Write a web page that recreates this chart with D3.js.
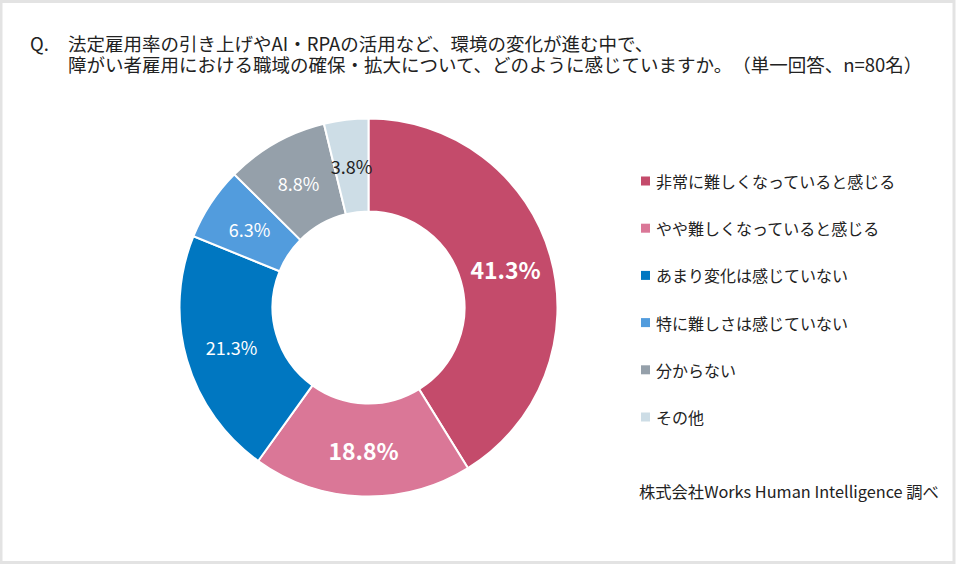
<!DOCTYPE html>
<html><head><meta charset="utf-8">
<script src="https://cdn.jsdelivr.net/npm/d3@7"></script>
<style>
html,body{margin:0;padding:0;background:#fff;}
svg{display:block;font-family:"Noto Sans CJK JP","Noto Sans",sans-serif;}
</style></head>
<body>
<svg id="chart" width="956" height="565"></svg>
<script>
const categories = ["非常に難しくなっていると感じる","やや難しくなっていると感じる","あまり変化は感じていない","特に難しさは感じていない","分からない","その他"];
const values = [41.3, 18.8, 21.3, 6.3, 8.8, 3.8];
const valueLabels = ["41.3%","18.8%","21.3%","6.3%","8.8%","3.8%"];
const colors = ["#C44B6B","#DA7797","#0077C1","#529CDD","#95A0AA","#CDDDE6"];
const labelColors = ["#fff","#fff","#fff","#fff","#fff","#222"];
const labelBold = [true,true,false,false,false,false];
const titleLines = ["法定雇用率の引き上げやAI・RPAの活用など、環境の変化が進む中で、","障がい者雇用における職域の確保・拡大について、どのように感じていますか。　（単一回答、n=80名）"];
const sourceText = "株式会社Works Human Intelligence 調べ";

const svg = d3.select("#chart");
// frame
svg.append("rect").attr("x",1).attr("y",1.5).attr("width",953).attr("height",561)
  .attr("fill","#fff").attr("stroke","#e3e3e3").attr("stroke-width",3);

// title
const title = svg.append("text").attr("font-size",18.5).attr("fill","#222");
title.append("tspan").attr("x",30).attr("y",50.5).text("Q.");
titleLines.forEach((t,i)=>{
  title.append("tspan").attr("x",68).attr("y",50.5+21*i).text(t);
});

// donut
const cx = 368.5, cy = 307.5, rOuter = 189, rInner = 96;
const g = svg.append("g").attr("transform",`translate(${cx},${cy})`);
const pie = d3.pie().sort(null).value(d=>d);
const arcs = pie(values);
const arc = d3.arc().innerRadius(rInner).outerRadius(rOuter);
g.selectAll("path").data(arcs).join("path")
  .attr("d",arc).attr("fill",(d,i)=>colors[i])
  .attr("stroke","#fff").attr("stroke-width",2);
const labelArc = d3.arc().innerRadius(rInner).outerRadius(rOuter);
g.selectAll("text.lbl").data(arcs).join("text").attr("class","lbl")
  .attr("transform",d=>`translate(${labelArc.centroid(d)})`)
  .attr("text-anchor","middle").attr("dominant-baseline","central")
  .attr("font-size",(d,i)=>labelBold[i]?23:18)
  .attr("font-weight",(d,i)=>labelBold[i]?"bold":"normal")
  .attr("fill",(d,i)=>labelColors[i])
  .text((d,i)=>valueLabels[i]);

// legend
const ly = d3.scalePoint().domain(categories).range([181,417]);
const lg = svg.append("g");
categories.forEach((c,i)=>{
  lg.append("rect").attr("x",641).attr("y",ly(c)-4.5).attr("width",9).attr("height",9).attr("fill",colors[i]);
  lg.append("text").attr("x",656).attr("y",ly(c)).attr("dominant-baseline","central")
    .attr("font-size",16).attr("fill","#222").text(c);
});
svg.append("text").attr("x",639).attr("y",491).attr("dominant-baseline","central")
  .attr("font-size",16.3).attr("fill","#222").text(sourceText);
</script>
</body></html>
